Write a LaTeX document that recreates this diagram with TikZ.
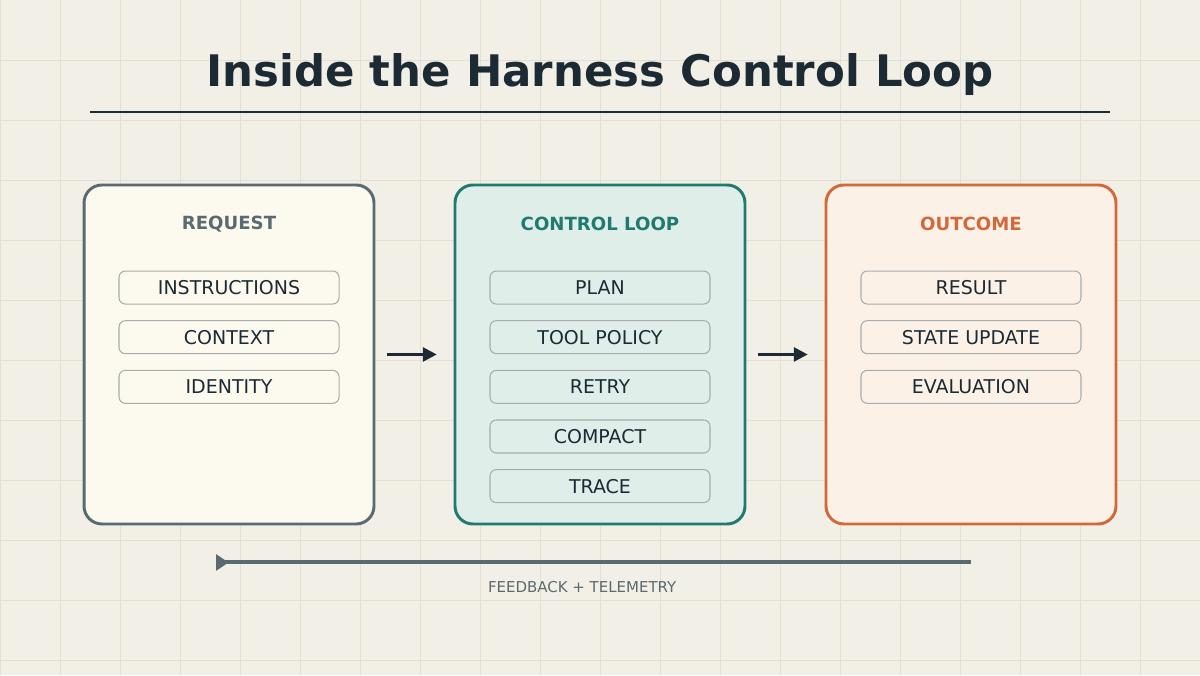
\documentclass[tikz,border=0pt]{standalone}
\usepackage{xcolor}
\usepackage{fontspec}
\setmainfont{DejaVu Sans}
\usetikzlibrary{arrows.meta,positioning,calc}

\definecolor{paper}{HTML}{F2EFE6}
\definecolor{gridc}{HTML}{E3DFD4}
\definecolor{ink}{HTML}{1B2A33}
\definecolor{slate}{HTML}{5A6A70}
\definecolor{teal}{HTML}{1F7A70}
\definecolor{tealfill}{HTML}{E0EEEA}
\definecolor{rust}{HTML}{D2693A}
\definecolor{rustfill}{HTML}{FCF1E7}
\definecolor{creamfill}{HTML}{FCF9EF}
\definecolor{itemline}{HTML}{A8ADAC}

\begin{document}
\begin{tikzpicture}[
  panel/.style={draw, line width=1.4pt, rounded corners=8.5pt,
    minimum width=4.833cm, minimum height=5.65cm},
  head/.style={font=\fontsize{8.6}{10}\selectfont\bfseries},
  item/.style={draw=itemline, line width=0.5pt, rounded corners=3pt,
    minimum width=3.667cm, minimum height=0.55cm, text=ink,
    font=\fontsize{9}{10}\selectfont},
  flow/.style={draw=ink, line width=1.4pt,
    -{Triangle[length=6.6pt,width=6.6pt]}, shorten <=0.2cm, shorten >=0.28cm},
  fback/.style={draw=slate, line width=1.9pt,
    -{Triangle[reversed,length=6pt,width=7.5pt]}}
]
  % background and grid
  \useasboundingbox (0,0) rectangle (20,11.25);
  \fill[paper] (0,0) rectangle (20,11.25);
  \foreach \gx in {0,...,20}
    \draw[gridc, line width=0.45pt] (\gx,0) -- (\gx,11.25);
  \foreach \gy in {0.25,1.25,...,10.25}
    \draw[gridc, line width=0.45pt] (0,\gy) -- (20,\gy);

  % title
  \node[anchor=base, text=ink, font=\fontsize{20.6}{24}\selectfont\bfseries]
    (title) at (10,9.8) {Inside the Harness Control Loop};
  \draw[ink, line width=1pt] (1.5,9.38) -- (18.5,9.38);

  % panels
  \node[panel, draw=slate, fill=creamfill] (req) at (3.817,5.342) {};
  \node[panel, draw=teal, fill=tealfill] (ctl) at (10,5.342) {};
  \node[panel, draw=rust, fill=rustfill] (out) at (16.183,5.342) {};

  \node[head, text=slate] (reqhead) at ($(req.north)+(0,-0.67)$) {REQUEST};
  \node[head, text=teal] (ctlhead) at ($(ctl.north)+(0,-0.67)$) {CONTROL LOOP};
  \node[head, text=rust] (outhead) at ($(out.north)+(0,-0.67)$) {OUTCOME};

  % request items
  \node[item, below=1.45cm of req.north] (instr) {INSTRUCTIONS};
  \node[item, below=0.26cm of instr] (context) {CONTEXT};
  \node[item, below=0.26cm of context] (ident) {IDENTITY};

  % control loop items
  \node[item, below=1.45cm of ctl.north] (plan) {PLAN};
  \node[item, below=0.26cm of plan] (policy) {TOOL POLICY};
  \node[item, below=0.26cm of policy] (retry) {RETRY};
  \node[item, below=0.26cm of retry] (compact) {COMPACT};
  \node[item, below=0.26cm of compact] (trace) {TRACE};

  % outcome items
  \node[item, below=1.45cm of out.north] (result) {RESULT};
  \node[item, below=0.26cm of result] (state) {STATE UPDATE};
  \node[item, below=0.26cm of state] (eval) {EVALUATION};

  % arrows
  \draw[flow] (req) -- (ctl);
  \draw[flow] (ctl) -- (out);

  % feedback
  \coordinate (fbR) at ($(out.south)+(0,-0.617)$);
  \coordinate (fbL) at ($(req.south)+(-0.217,-0.617)$);
  \draw[fback] (fbR) -- (fbL)
    node[pos=0.515, below=0.16cm, text=slate, font=\fontsize{7.1}{8}\selectfont]
    (fblabel) {FEEDBACK + TELEMETRY};
\end{tikzpicture}
\end{document}
